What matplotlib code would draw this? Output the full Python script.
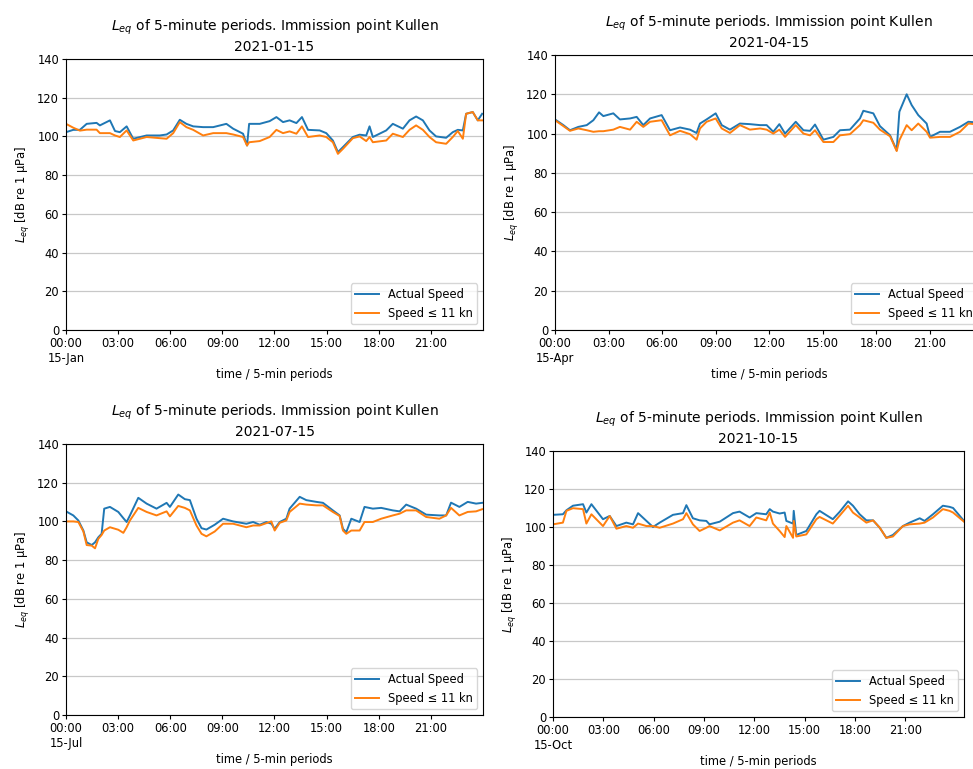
import numpy as np
import matplotlib
matplotlib.use("Agg")
import matplotlib.pyplot as plt
from matplotlib.ticker import FixedLocator, FuncFormatter

# ---- data (hours of day, Leq in dB re 1 uPa) ----
jan_t = [0, 0.42, 0.80, 1.19, 1.76, 1.95, 2.53, 2.82, 3.10, 3.49, 3.87, 4.64, 5.40, 5.79, 6.17,
         6.55, 6.93, 7.32, 7.89, 8.47, 9.23, 9.62, 10.19, 10.42, 10.54, 11.15, 11.72, 12.11, 12.49, 12.87,
         13.26, 13.58, 13.93, 14.60, 14.98, 15.36, 15.65, 15.94, 16.51, 16.90, 17.28, 17.47, 17.66, 18.43, 18.81,
         19.39, 19.77, 20.15, 20.54, 20.92, 21.30, 21.88, 22.26, 22.55, 22.84, 23.03, 23.41, 23.70, 23.95]
jan_actual = [102.2, 103.4, 103.4, 106.5, 107.0, 105.7, 108.3, 102.8, 102.2, 105.2, 98.8, 100.5, 100.5, 101.0, 103.1,
              108.6, 106.5, 105.2, 104.8, 104.8, 106.5, 104.0, 101.4, 95.3, 106.5, 106.5, 107.9, 110.0, 107.4, 108.3,
              106.9, 110.0, 103.4, 103.1, 101.7, 97.9, 91.9, 94.5, 99.7, 100.9, 100.5, 105.2, 99.7, 103.1, 106.5,
              104.0, 108.3, 110.3, 108.3, 103.1, 100.0, 99.3, 102.2, 103.4, 103.1, 111.7, 112.6, 108.3, 111.7]
jan_slow = [106.5, 104.5, 103.0, 103.5, 103.5, 101.7, 101.7, 100.5, 99.7, 103.1, 97.9, 99.7, 99.1, 98.8, 101.7,
            107.4, 104.8, 103.4, 100.5, 101.7, 101.7, 101.0, 99.7, 95.3, 97.0, 97.6, 99.7, 103.4, 101.7, 102.6,
            101.4, 105.2, 99.7, 100.5, 99.7, 97.0, 91.0, 93.6, 99.1, 100.0, 97.6, 99.7, 97.0, 97.9, 101.4,
            99.7, 103.4, 105.7, 103.4, 99.7, 97.0, 96.2, 99.7, 102.8, 98.8, 111.7, 112.6, 108.3, 108.3]

apr_t = [0, 0.47, 0.84, 1.31, 1.78, 2.15, 2.47, 2.71, 3.27, 3.64, 4.21, 4.58, 4.95, 5.33, 5.98,
         6.45, 7.01, 7.57, 7.94, 8.13, 8.50, 9.01, 9.35, 9.81, 10.37, 10.93, 11.50, 11.87, 12.24, 12.58,
         12.90, 13.50, 13.93, 14.30, 14.58, 15.05, 15.61, 15.98, 16.54, 17.10, 17.29, 17.85, 18.22, 18.79, 19.16,
         19.31, 19.72, 20.00, 20.37, 20.84, 21.03, 21.59, 22.15, 22.71, 23.18, 23.90]
apr_actual = [107.2, 104.3, 101.7, 103.4, 104.3, 106.8, 110.8, 108.9, 110.3, 107.2, 107.7, 108.5, 104.3, 107.7, 109.4,
              101.7, 103.1, 102.0, 100.3, 105.1, 107.2, 110.3, 104.3, 102.0, 105.1, 104.8, 104.3, 104.3, 100.9, 104.8,
              100.0, 106.0, 101.7, 101.4, 104.6, 96.9, 98.3, 101.7, 102.0, 107.7, 111.6, 110.3, 103.8, 99.1, 91.5,
              111.1, 120.0, 114.5, 109.4, 105.1, 98.3, 100.9, 100.9, 103.4, 106.0, 105.5]
apr_slow = [106.8, 103.8, 101.4, 102.6, 101.7, 100.9, 101.2, 101.2, 102.0, 103.4, 102.0, 106.0, 103.4, 106.0, 106.8,
            99.1, 101.4, 99.7, 96.9, 102.6, 106.0, 107.7, 102.6, 100.3, 104.3, 102.0, 102.6, 102.0, 100.0, 102.0,
            98.3, 104.3, 100.0, 99.1, 101.7, 95.7, 95.7, 99.1, 99.7, 104.3, 106.8, 105.5, 102.0, 98.6, 91.1,
            96.6, 104.3, 101.7, 105.1, 100.9, 97.9, 98.3, 98.3, 100.9, 105.1, 104.5]

jul_t = [0, 0.42, 0.71, 1.00, 1.19, 1.48, 1.67, 1.86, 2.05, 2.20, 2.53, 3.01, 3.30, 3.49, 3.68,
         4.16, 4.64, 5.21, 5.79, 5.98, 6.46, 6.84, 7.13, 7.51, 7.80, 8.08, 8.56, 9.04, 9.62, 10.38,
         10.77, 11.15, 11.53, 11.82, 12.01, 12.30, 12.68, 12.87, 13.45, 13.83, 14.41, 14.79, 15.36, 15.75, 15.94,
         16.13, 16.42, 16.90, 17.18, 17.66, 18.14, 18.81, 19.20, 19.58, 20.15, 20.73, 21.49, 21.88, 22.16, 22.64,
         23.12, 23.60, 23.95]
jul_actual = [105.2, 103.1, 100.5, 95.3, 89.2, 87.8, 89.2, 91.8, 93.6, 106.6, 107.5, 104.9, 101.7, 99.7, 103.1,
              112.2, 109.2, 106.6, 109.6, 107.5, 113.9, 111.5, 111.0, 101.4, 96.5, 95.8, 98.3, 101.4, 100.0, 98.8,
              99.7, 98.3, 99.7, 98.8, 96.2, 99.7, 101.4, 106.6, 112.7, 111.0, 110.1, 109.6, 105.7, 103.1, 96.2,
              94.4, 101.4, 99.7, 107.5, 106.6, 107.0, 105.7, 105.2, 108.7, 106.6, 103.5, 103.1, 103.1, 109.7, 107.5,
              110.1, 109.2, 109.6]
jul_slow = [100.0, 100.0, 99.7, 94.8, 87.8, 87.5, 86.1, 91.0, 93.0, 95.3, 97.0, 95.7, 94.1, 97.0, 100.5,
            107.0, 104.9, 103.1, 105.2, 102.6, 108.0, 107.0, 105.7, 97.9, 93.6, 92.3, 94.8, 98.8, 98.8, 97.0,
            97.9, 97.9, 99.1, 100.0, 95.3, 99.3, 100.5, 104.9, 109.2, 108.7, 108.3, 108.3, 104.9, 102.8, 95.3,
            93.6, 95.3, 95.3, 99.7, 99.7, 101.4, 103.1, 104.0, 105.7, 105.7, 102.3, 101.4, 103.1, 107.0, 103.1,
            104.9, 105.2, 106.3]

oct_t = [0, 0.59, 0.80, 1.19, 1.79, 1.99, 2.29, 2.98, 3.38, 3.78, 4.37, 4.77, 5.07, 5.57, 5.96,
         6.36, 7.15, 7.75, 7.95, 8.34, 8.74, 9.14, 9.33, 9.94, 10.73, 11.12, 11.72, 12.12, 12.71, 12.92,
         13.11, 13.51, 13.81, 13.91, 14.31, 14.35, 14.50, 15.10, 15.70, 15.89, 16.68, 17.09, 17.59, 17.88, 18.28,
         18.68, 19.08, 19.48, 19.87, 20.26, 20.86, 21.26, 21.86, 22.15, 22.65, 23.24, 23.64, 23.85, 24.50]
oct_actual = [106.4, 106.7, 108.8, 111.2, 112.0, 107.6, 112.0, 104.1, 105.8, 100.5, 102.3, 101.4, 107.3, 103.2, 100.0,
              102.3, 106.4, 107.3, 111.5, 104.6, 103.5, 103.2, 101.4, 102.8, 107.3, 108.1, 105.0, 107.3, 106.7, 109.4,
              108.1, 107.1, 107.6, 103.2, 101.8, 108.5, 95.8, 97.9, 106.7, 108.5, 104.1, 108.0, 113.5, 111.2, 106.7,
              103.5, 103.5, 99.6, 94.3, 95.8, 100.5, 102.3, 104.6, 103.2, 106.7, 111.2, 110.6, 110.0, 103.2]
oct_slow = [101.4, 102.3, 108.5, 109.9, 109.4, 101.8, 106.7, 100.5, 105.8, 99.1, 100.5, 99.6, 101.8, 100.5, 100.5,
            99.6, 101.8, 104.1, 107.3, 101.4, 97.9, 99.6, 100.5, 98.2, 102.3, 103.5, 100.5, 105.0, 103.5, 107.6,
            101.8, 97.9, 94.7, 100.5, 94.3, 103.2, 95.0, 96.1, 104.1, 105.3, 101.8, 106.0, 111.2, 107.6, 105.0,
            102.3, 103.5, 99.6, 94.3, 95.0, 100.5, 101.4, 101.8, 102.3, 105.0, 109.4, 108.5, 107.6, 102.8]

dates = ["2021-01-15", "2021-04-15", "2021-07-15", "2021-10-15"]
day_labels = ["15-Jan", "15-Apr", "15-Jul", "15-Oct"]
x_end = [24, 24, 24, 24.5]
panels = [(jan_t, jan_actual, jan_slow), (apr_t, apr_actual, apr_slow),
          (jul_t, jul_actual, jul_slow), (oct_t, oct_actual, oct_slow)]

# axes rectangles in pixels: left, top, right, bottom (the four panels were pasted together)
W, H = 973, 769
boxes = [(66, 59, 483, 330), (555, 55, 983, 330), (66, 444, 483, 715), (553, 451, 964, 717)]

fig = plt.figure(figsize=(W / 100, H / 100), dpi=100)
fs = 8.3

for (t, actual, slow), date, day, xe, (l, tp, r, b) in zip(panels, dates, day_labels, x_end, boxes):
    ax = fig.add_axes([l / W, (H - b) / H, (r - l) / W, (b - tp) / H])
    ax.plot(t, actual, color="#1f77b4", lw=1.4, label="Actual Speed")
    ax.plot(t, slow, color="#ff7f0e", lw=1.4, label="Speed ≤ 11 kn")
    ax.set_xlim(0, xe)
    ax.set_ylim(0, 140)
    ax.set_yticks(np.arange(0, 141, 20))
    ax.xaxis.set_major_locator(FixedLocator(np.arange(0, 22, 3)))
    ax.xaxis.set_major_formatter(FuncFormatter(
        lambda v, p, day=day: "00:00\n" + day if v == 0 else "%02d:00" % v))
    for lab in ax.get_xticklabels():
        lab.set_multialignment("center")
    ax.grid(axis="y", color="#c8c8c8", lw=0.9)
    ax.tick_params(labelsize=fs, length=3, pad=2)
    ax.set_title(r"$L_{eq}$ of 5-minute periods. Immission point Kullen" + "\n" + date, fontsize=10)
    ax.set_xlabel("time / 5-min periods", fontsize=fs, labelpad=2)
    ax.set_ylabel(r"$L_{eq}$ [dB re 1 µPa]", fontsize=fs)
    ax.legend(loc="lower right", fontsize=fs)

fig.savefig("out.png", dpi=100)
